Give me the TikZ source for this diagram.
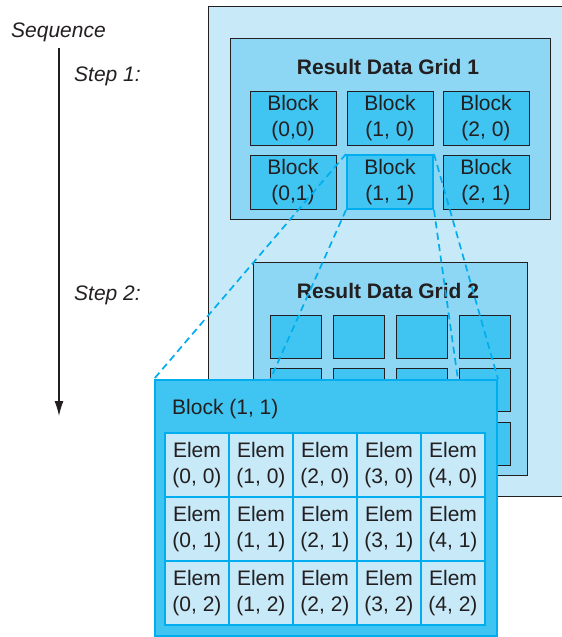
\documentclass[tikz,border=0pt]{standalone}
\usepackage{fontspec}
\setmainfont{Liberation Sans}
\usetikzlibrary{arrows.meta}
\definecolor{lightbg}{HTML}{C7E9F8}
\definecolor{midbg}{HTML}{8DD7F5}
\definecolor{blockfill}{HTML}{40C4F1}
\definecolor{hlblue}{HTML}{00AEEF}
\definecolor{darkline}{HTML}{231F20}
\newcommand{\fsz}{\fontsize{21}{26}\selectfont}
\tikzset{
  txt/.style={inner sep=0pt, text=darkline, font=\fsz},
  itxt/.style={txt, font=\fsz\itshape},
  btxt/.style={txt, font=\fsz\bfseries},
  outerbox/.style={fill=lightbg, draw=darkline, line width=0.8pt, inner sep=0pt},
  gridbox/.style={fill=midbg, draw=darkline, line width=0.8pt, inner sep=0pt},
  blk/.style={fill=blockfill, draw=darkline, line width=0.8pt, inner sep=0pt,
    minimum width=86pt, minimum height=54pt, align=center, text=darkline, font=\fsz},
  hlblk/.style={blk, draw=hlblue, line width=2pt},
  sblk/.style={fill=blockfill, draw=darkline, line width=0.8pt, inner sep=0pt,
    minimum width=51pt, minimum height=43pt},
  zoombox/.style={fill=blockfill, draw=hlblue, line width=2pt, inner sep=0pt},
  elem/.style={fill=lightbg, draw=hlblue, line width=1.3pt, inner sep=0pt,
    minimum width=64pt, minimum height=64pt, align=center, text=darkline, font=\fsz},
  proj/.style={draw=hlblue, line width=1.7pt, dash pattern=on 7pt off 4.5pt},
}
\begin{document}
\begin{tikzpicture}[x=1pt,y=-1pt]
\path[use as bounding box, fill=white] (0,0) rectangle (562,637);

% sequence
\node[itxt] (seq) at (58.5,32.5) {Sequence};
\node[itxt, anchor=west] (step1) at (74,76) {Step 1:};
\node[itxt, anchor=west] (step2) at (74,295) {Step 2:};
\coordinate (seqtop) at (59,48);
\coordinate (seqend) at (59,416);
\draw[darkline, line width=1.2pt, -{Latex[length=15pt,width=9pt]}] (seqtop) -- (seqend);

% outer panel
\node[outerbox, minimum width=357pt, minimum height=490pt] (outer) at (386.5,251) {};

% grid 1
\node[gridbox, minimum width=320pt, minimum height=181pt] (grid1) at (390,128.5) {};
\node[btxt] (title1) at (388,67) {Result Data Grid 1};
\node[blk] (b00) at (293,118) {Block\\(0,0)};
\node[blk] (b10) at (390,118) {Block\\(1, 0)};
\node[blk] (b20) at (486,118) {Block\\(2, 0)};
\node[blk] (b01) at (293,182) {Block\\(0,1)};
\node[hlblk] (b11) at (390,182) {Block\\(1, 1)};
\node[blk] (b21) at (486,182) {Block\\(2, 1)};

% grid 2
\node[gridbox, minimum width=274pt, minimum height=213pt] (grid2) at (390,368.5) {};
\node[btxt] (title2) at (388,291) {Result Data Grid 2};
\foreach \c/\x in {0/295.5,1/358.5,2/421.5,3/484.5}{
  \foreach \r/\y in {0/336.5,1/389.5,2/443.5}{
    \node[sblk] (s\c\r) at (\x,\y) {};
  }
}

% projection lines and zoomed block
\node[zoombox, minimum width=342pt, minimum height=256pt] (zoom) at (326,508) {};
\coordinate (zl) at (270,380);
\coordinate (zr) at (458,380);
\draw[proj] (b11.north west) -- (zoom.north west);
\draw[proj] (b11.south west) -- (zl);
\draw[proj] (b11.south east) -- (zr);
\draw[proj] (b11.north east) -- (zoom.north east);
\node[zoombox, minimum width=342pt, minimum height=256pt] (zoomb) at (326,508) {};
\node[txt, anchor=west] (zlabel) at (172,409) {Block (1, 1)};
\foreach \c in {0,...,4}{
  \foreach \r in {0,1,2}{
    \node[elem] (e\c\r) at ({197+64*\c},{465+64*\r}) {Elem\\(\c, \r)};
  }
}
\end{tikzpicture}
\end{document}
